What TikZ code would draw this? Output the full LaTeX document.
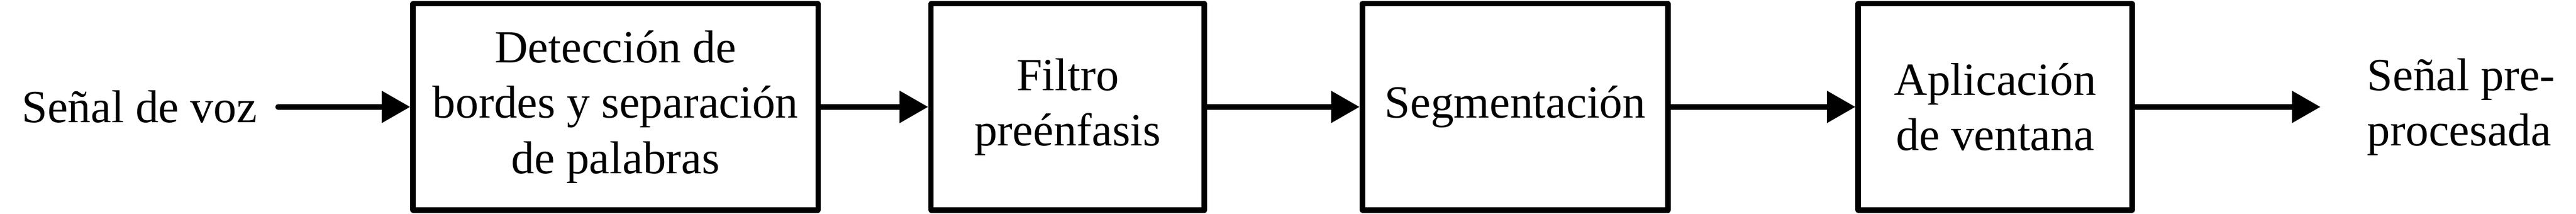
\documentclass[tikz,border=0pt]{standalone}
\usepackage{fontspec}
\setmainfont{Liberation Serif}
\usetikzlibrary{positioning,arrows.meta}

\begin{document}
\begin{tikzpicture}[font=\fontsize{12}{14.4}\selectfont,
  bloque/.style={draw, line width=1.44pt, line join=round, minimum height=53.76pt, align=center, inner sep=0pt},
  senal/.style={inner sep=0pt, align=left},
  flecha/.style={line width=1.44pt, line cap=round, -{Triangle[length=7.44pt,width=8.04pt]}}]%preprocesado de la voz
\useasboundingbox (-160.44pt,-27.84pt) rectangle (510.96pt,27.84pt);
\node[bloque, minimum width=105.6pt] (b1) at (0,0) {Detección de\\bordes y separación\\de palabras};
\node[bloque, minimum width=71.28pt, right=27.96pt of b1] (b2) {Filtro\\preénfasis};
\node[bloque, minimum width=79.68pt, right=39.72pt of b2] (b3) {Segmentación};
\node[bloque, minimum width=71.4pt, right=48.12pt of b3] (b4) {Aplicación\\de ventana};
\node[senal, left=39.72pt of b1] (in) {Señal de voz};
\coordinate[right=48.36pt of b4] (tip);
\node[senal, right=12pt of tip] (out) {Señal pre-\\procesada};
\draw[flecha, shorten <=5.28pt] (in) -- (b1);
\draw[flecha] (b1) -- (b2);
\draw[flecha] (b2) -- (b3);
\draw[flecha] (b3) -- (b4);
\draw[flecha] (b4) -- (tip);
\end{tikzpicture}
\end{document}
